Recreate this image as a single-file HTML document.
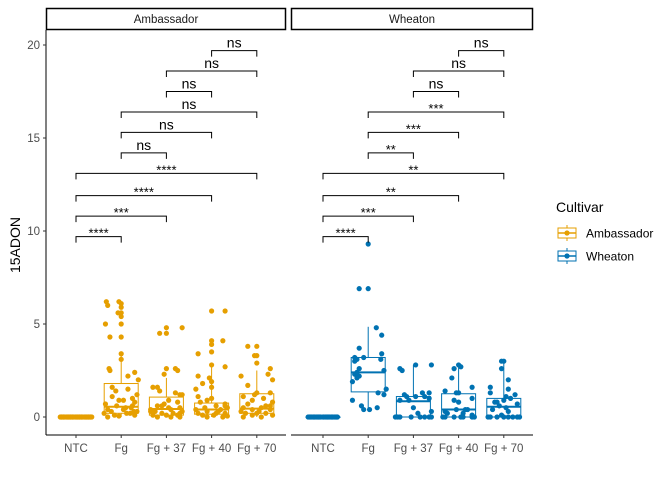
<!DOCTYPE html>
<html><head><meta charset="utf-8"><style>
body{margin:0;background:#fff;}
svg{font-family:"Liberation Sans",Arial,sans-serif;}
</style></head><body>
<svg id="chart" width="672" height="480" viewBox="0 0 672 480" xmlns="http://www.w3.org/2000/svg">
<rect width="672" height="480" fill="#fff"/>
<g id="g"></g>
</svg>
<script>
const categories = ["NTC","Fg","Fg + 37","Fg + 40","Fg + 70"];
const panels = ["Ambassador","Wheaton"];
const colors = ["#E69F00","#0072B2"];
const yTicks = [0,5,10,15,20];
// box stats [lower whisker, q1, median, q3, upper whisker]
const boxAmb = [[0,0,0,0,0],[0,0.2,0.55,1.8,3.5],[0,0.1,0.43,1.07,2.1],[0,0.15,0.4,0.75,2.8],[0,0.2,0.45,1.25,2.5]];
const boxWhe = [[0,0,0,0,0],[0.35,1.35,2.4,3.2,4.85],[0,0,0.85,1.1,2.8],[0,0,0.4,1.25,2.8],[0,0,0.55,1.0,3.05]];
// points: values and jitter (fraction of category width)
const ptsAmb = [
 {v:[0,0,0,0,0,0,0,0,0,0,0,0,0,0,0,0,0,0,0,0,0,0,0,0,0,0,0,0,0,0,0,0,0,0,0,0,0,0,0,0],
  j:[-0.35,-0.3,-0.25,-0.2,-0.15,-0.1,-0.05,0,0.05,0.1,0.15,0.2,0.25,0.3,0.35,-0.32,-0.22,-0.12,-0.02,0.08,0.18,0.28,-0.28,-0.18,-0.08,0.02,0.12,0.22,0.32,-0.33,-0.27,-0.17,-0.07,0.03,0.13,0.23,0.33,-0.13,0.07,0.27]},
 {v:[6.2,6.2,6.1,6.0,5.9,5.6,5.6,5.4,5.0,5.0,4.3,4.3,3.4,3.1,2.6,2.5,2.4,2.2,2.0,1.6,1.5,1.2,1.1,1.0,0.9,0.8,0.7,0.6,0.5,0.5,0.4,0.4,0.3,0.3,0.2,0.2,0.1,0.1,0.05,0,0.6,0.3,0.9,1.4,0.2],
  j:[-0.05,-0.33,0,-0.3,0,-0.07,0,0,0,-0.35,-0.25,0,0,0,-0.27,-0.25,0.3,0.15,0.38,-0.2,0.15,0.35,-0.2,0.25,-0.05,0.3,-0.35,-0.1,0.1,0.22,-0.3,0.05,-0.22,0.28,-0.38,0.12,-0.15,0.3,-0.05,-0.3,0.25,0.35,0.05,-0.12,0.2]},
 {v:[4.8,4.8,4.5,4.5,2.6,2.6,2.5,2.3,1.6,1.6,1.4,1.3,1.2,1.2,0.8,0.7,0.6,0.5,0.5,0.4,0.4,0.3,0.3,0.2,0.2,0.2,0.1,0.1,0.1,0,0,0,0.6,0.3,0.9],
  j:[0.0,0.35,-0.15,0.0,0.0,0.2,0.25,-0.05,-0.3,-0.2,-0.15,0.2,0.3,0.35,0.25,-0.05,-0.2,0.05,0.3,-0.35,0.1,-0.25,0.35,-0.1,0.15,0.3,-0.3,0.0,0.25,-0.2,0.1,0.3,-0.1,-0.35,0.05]},
 {v:[5.7,5.7,4.1,4.1,3.9,3.5,3.4,2.8,2.7,2.2,2.1,1.9,1.8,1.6,1.5,1.1,1.0,0.8,0.7,0.6,0.5,0.5,0.4,0.4,0.3,0.3,0.2,0.2,0.1,0.1,0,0,0.05,0.6,0.9,0.2],
  j:[0.0,0.3,0.0,0.25,0.0,0.0,-0.3,0.0,0.3,-0.3,-0.05,0.0,-0.2,0.0,-0.35,-0.3,0.0,-0.25,0.3,0.1,-0.15,0.35,-0.35,0.2,-0.1,0.15,-0.3,0.3,-0.2,0.05,0.25,-0.1,0.35,0.3,-0.1,0.1]},
 {v:[3.8,3.8,3.3,3.3,2.9,2.6,2.3,2.2,2.0,1.7,1.3,1.3,1.1,1.0,0.9,0.8,0.7,0.6,0.5,0.5,0.4,0.4,0.3,0.3,0.2,0.2,0.1,0.1,0,0,0.6,0.2,1.2],
  j:[-0.2,0.0,-0.05,0.0,0.0,0.3,0.25,-0.35,0.35,-0.2,0.0,0.3,-0.3,0.15,-0.1,0.35,-0.2,0.2,-0.3,0.1,-0.1,0.3,-0.35,0.05,0.2,-0.25,0.35,-0.1,0.1,-0.3,0.3,0.0,-0.05]}
];
const ptsWhe = [
 {v:[0,0,0,0,0,0,0,0,0,0,0,0,0,0,0,0,0,0,0,0,0,0,0,0,0,0],
  j:[-0.3,-0.25,-0.2,-0.15,-0.1,-0.05,0,0.05,0.1,0.15,0.2,0.25,0.3,-0.28,-0.18,-0.08,0.02,0.12,0.22,-0.22,-0.12,0.08,0.18,0.28,0.32,-0.33]},
 {v:[9.3,6.9,6.9,4.8,4.4,3.7,3.4,3.2,3.2,3.1,3.1,3.0,2.6,2.5,2.4,2.3,2.2,2.1,1.9,1.5,1.3,1.2,0.9,0.6,0.5,0.4,0.4],
  j:[0.0,-0.2,0.0,0.18,0.3,-0.2,0.3,-0.3,-0.1,0.28,-0.25,-0.3,-0.2,0.35,-0.25,-0.3,-0.2,-0.25,-0.35,0.4,0.22,0.35,-0.35,-0.15,0.2,-0.1,0.03]},
 {v:[2.8,2.8,2.6,2.5,1.3,1.3,1.2,1.1,1.1,1.1,1.0,0.9,0.9,0.3,0.2,0,0,0,0,0,0,0,0,0.5],
  j:[0.05,0.4,-0.3,-0.25,0.2,0.35,-0.2,-0.15,0.05,0.25,0.35,-0.3,-0.1,0.4,0.1,-0.4,-0.35,-0.3,-0.05,0.15,0.25,0.35,0.4,0.0]},
 {v:[2.8,2.7,2.6,2.1,1.6,1.4,1.3,1.3,1.0,0.8,0.9,0.4,0.4,0.4,0.2,0.3,0.2,0,0,0,0,0,0,0,0.1],
  j:[0.0,0.05,-0.1,-0.15,0.3,-0.3,-0.05,0.0,0.3,0.0,-0.1,0.15,-0.05,0.2,0.1,-0.3,-0.25,-0.35,-0.3,-0.1,0.05,0.1,0.3,0.35,0.3]},
 {v:[3.0,3.0,2.6,2.0,1.6,1.5,1.3,1.2,1.1,1.0,0.9,0.8,0.7,0.6,0.5,0.4,0.3,0.1,0,0,0,0,0,0,0,0,0.8],
  j:[-0.05,0.0,-0.05,0.1,-0.3,0.1,-0.3,0.25,0.05,0.15,0.0,-0.15,0.3,-0.1,0.05,-0.25,0.1,-0.05,-0.35,-0.3,-0.15,0.0,0.1,0.2,0.3,0.35,-0.2]}
];
// brackets: [fromIdx, toIdx, yValue]
const brPairs = [[3,4],[2,4],[2,3],[1,4],[1,3],[1,2],[0,4],[0,3],[0,2],[0,1]];
const brY = [19.7,18.6,17.5,16.4,15.3,14.2,13.1,11.9,10.8,9.7];
const labAmb = ["ns","ns","ns","ns","ns","ns","****","****","***","****"];
const labWhe = ["ns","ns","ns","***","***","**","**","**","***","****"];

const NS="http://www.w3.org/2000/svg";
const g=document.getElementById('g');
function el(t,a,p){const e=document.createElementNS(NS,t);for(const k in a)e.setAttribute(k,a[k]);(p||g).appendChild(e);return e;}
const panelX=[46,291], panelW=[240,242], panelOff=[30,32];
const y=v=>417-v*18.6;
const xc=(p,i)=>panelX[p]+panelOff[p]+i*45.2;

// strips
panels.forEach((name,p)=>{
  const r=el('rect',{x:panelX[p]+0.5,y:8.5,width:panelW[p]-1,height:21,fill:'#fff',stroke:'#000','stroke-width':1.5});
  
  
  const t=el('text',{x:panelX[p]+panelW[p]/2,y:23,'text-anchor':'middle','font-size':11.5,fill:'#1a1a1a'});
  t.textContent=name;
  
  
});
// axes
let ax=el('line',{x1:46,y1:30,x2:46,y2:435,stroke:'#000','stroke-width':1});


panels.forEach((name,p)=>{
  const l=el('line',{x1:panelX[p],y1:435,x2:panelX[p]+panelW[p],y2:435,stroke:'#000','stroke-width':1});
  
  
  categories.forEach((c,i)=>{
    el('line',{x1:xc(p,i),y1:435,x2:xc(p,i),y2:438,stroke:'#333'});
    const t=el('text',{x:xc(p,i),y:452,'text-anchor':'middle','font-size':11.5,fill:'#4d4d4d'});
    t.textContent=c;
    
    
  });
});
yTicks.forEach(v=>{
  el('line',{x1:43,y1:y(v),x2:46,y2:y(v),stroke:'#333'});
  const t=el('text',{x:40,y:y(v)+4,'text-anchor':'end','font-size':11.5,fill:'#4d4d4d'});
  t.textContent=v;
  
  
});
const yt=el('text',{x:0,y:0,transform:'translate(20,245) rotate(-90)','text-anchor':'middle','font-size':14,fill:'#000'});
yt.textContent='15ADON';



// boxes and points
[boxAmb,boxWhe].forEach((boxes,p)=>{
  const col=colors[p];
  boxes.forEach((b,i)=>{
    const cx=xc(p,i), hw=17;
    const bg=el('g',{});
    
    
    el('line',{x1:cx,y1:y(b[4]),x2:cx,y2:y(b[3]),stroke:col,'stroke-width':1},bg);
    el('line',{x1:cx,y1:y(b[1]),x2:cx,y2:y(b[0]),stroke:col,'stroke-width':1},bg);
    el('rect',{x:cx-hw,y:y(b[3]),width:2*hw,height:Math.max(0.5,y(b[1])-y(b[3])),fill:'none',stroke:col,'stroke-width':1},bg);
    el('line',{x1:cx-hw,y1:y(b[2]),x2:cx+hw,y2:y(b[2]),stroke:col,'stroke-width':2},bg);
  });
  const pts=p===0?ptsAmb:ptsWhe;
  pts.forEach((s,i)=>{
    s.v.forEach((v,k)=>{
      const c=el('circle',{cx:xc(p,i)+s.j[k]*45,cy:y(v),r:2.6,fill:col});
      
      
    });
  });
  const labs=p===0?labAmb:labWhe;
  brPairs.forEach((pr,k)=>{
    const x1=xc(p,pr[0]),x2=xc(p,pr[1]),yy=y(brY[k]);
    const br=el('path',{d:`M${x1},${yy+6}V${yy}H${x2}V${yy+6}`,fill:'none',stroke:'#000','stroke-width':1});
    
    
    const isNs=labs[k]==='ns';
    const t=el('text',{x:(x1+x2)/2,y:isNs?yy-3:yy+1,'text-anchor':'middle','font-size':isNs?14:13,fill:'#000'});
    t.textContent=labs[k];
    
    
  });
});

// legend
const lt=el('text',{x:556,y:212,'font-size':14,fill:'#000'});
lt.textContent='Cultivar';


panels.forEach((name,p)=>{
  const yy=233+p*23, col=colors[p];
  const lg=el('g',{});
  
  
  el('line',{x1:567,y1:yy-8,x2:567,y2:yy+8,stroke:col},lg);
  el('rect',{x:558,y:yy-5,width:18,height:10,fill:'#fff',stroke:col},lg);
  el('line',{x1:558,y1:yy,x2:576,y2:yy,stroke:col,'stroke-width':1.5},lg);
  el('circle',{cx:567,cy:yy,r:2.6,fill:col},lg);
  const t=el('text',{x:586,y:yy+4.5,'font-size':12,fill:'#000'},lg);
  t.textContent=name;
});
</script>
</body></html>
